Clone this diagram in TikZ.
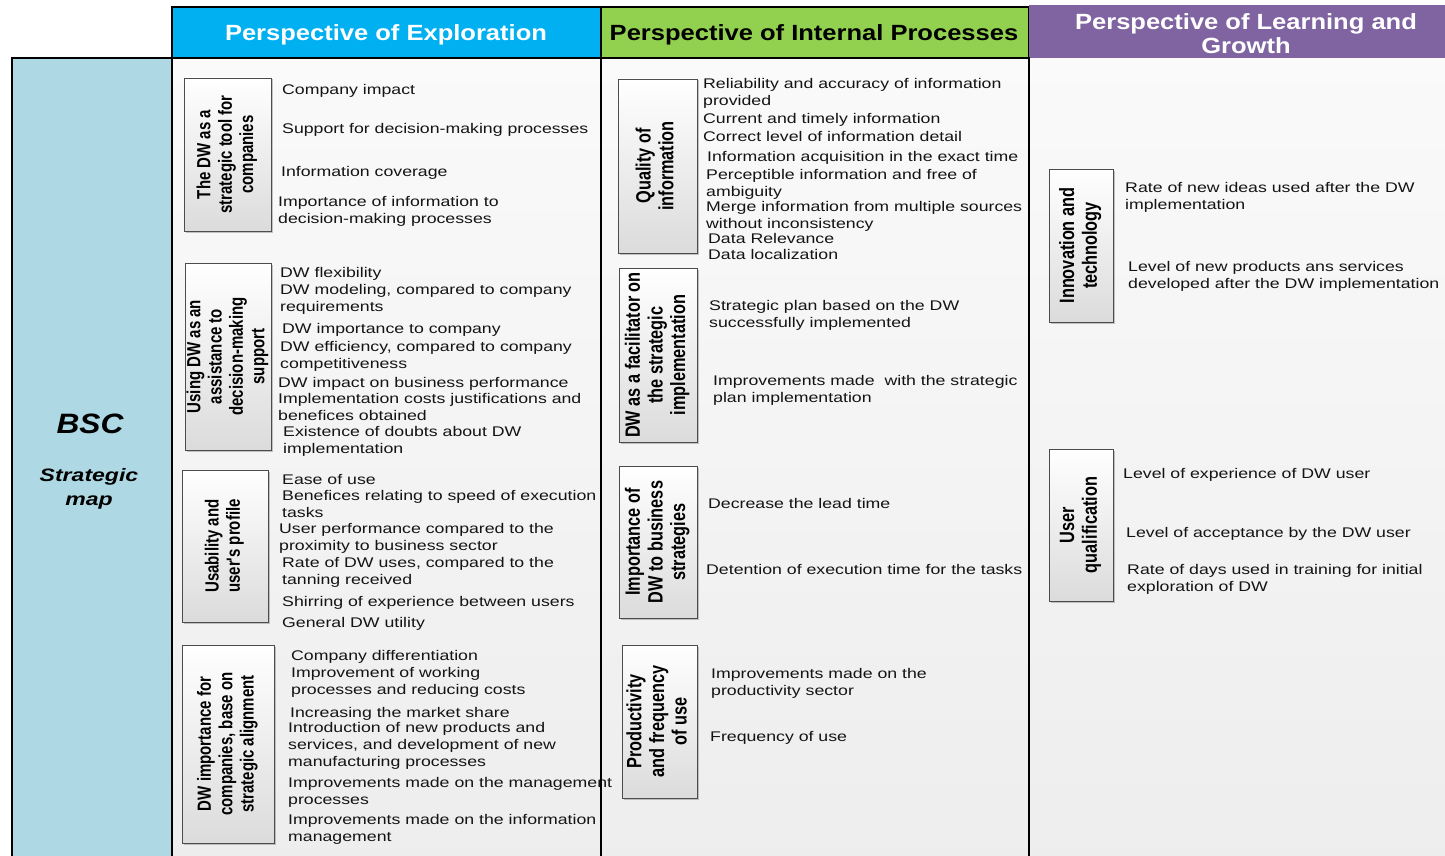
\documentclass[tikz,border=0pt]{standalone}
\usepackage{fontspec}
\usepackage{graphicx}
\usetikzlibrary{shadows}
\setmainfont{Liberation Sans}
% wide set faces for the running text, headings and side panel
\newfontfamily\itemfont[FakeStretch=1.265]{Liberation Sans}
\newfontfamily\headfont[FakeStretch=1.16]{Liberation Sans}
\newfontfamily\catfont{Liberation Sans}
\newfontfamily\bscfont[FakeStretch=1.13]{Liberation Sans}
\newfontfamily\mapfont[FakeStretch=1.28]{Liberation Sans}

\definecolor{explorecol}{HTML}{00B0F0}
\definecolor{internalcol}{HTML}{92D050}
\definecolor{learningcol}{HTML}{8064A2}
\definecolor{bscblue}{HTML}{ADD8E4}

% vertical category caption: glyphs widened across the reading direction
\newcommand\catcaption[1]{\scalebox{1}[1.27]{\begin{tabular}{@{}c@{}}#1\end{tabular}}}

\tikzset{
  frame/.style={draw=black, line width=2.6pt},
  panel/.style={top color=black!2, bottom color=black!7},
  headbox/.style={draw=black, line width=2.6pt, inner sep=0},
  headtext/.style={inner sep=0, align=center,
    font=\headfont\bfseries\fontsize{22}{24.5}\selectfont},
  catbox/.style={draw=black!70, line width=0.9pt, top color=white, bottom color=black!14,
    inner sep=0, drop shadow={shadow xshift=1.5pt, shadow yshift=-1.5pt, fill=black!45, opacity=0.5}},
  catlabel/.style={rotate=90, inner sep=0, text=black,
    font=\catfont\bfseries\fontsize{15}{16.8}\selectfont},
  catlabel large/.style={catlabel, font=\catfont\bfseries\fontsize{16.3}{17.8}\selectfont},
  item/.style={anchor=north west, inner sep=0, yshift=5.5pt, align=left, text=black!92,
    font=\itemfont\fontsize{14}{17}\selectfont, execute at begin node=\strut},
}

\begin{document}
\begin{tikzpicture}[x=1pt, y=-1pt]
\useasboundingbox (0,0) rectangle (1445,856);

% column backgrounds
\fill[bscblue] (12,58) rectangle (172,870);
\shade[panel] (172,58) rectangle (601,870);
\shade[panel] (601,58) rectangle (1029,870);
\shade[panel] (1029,58) rectangle (1450,870);

% column headings
\node[headbox, fill=explorecol, minimum width=429pt, minimum height=51pt]
  (hexp) at (386.5,32.5) {};
\node[headtext, text=white] (texp) at (386,35) {Perspective of Exploration};
\node[headbox, fill=internalcol, minimum width=428pt, minimum height=51pt]
  (hint) at (815,32.5) {};
\node[headtext, text=black] (tint) at (814,35) {Perspective of Internal Processes};
\node[headbox, draw=none, fill=learningcol, minimum width=420pt, minimum height=53pt]
  (hlea) at (1239,31.5) {};
\node[headtext, text=white] (tlea) at (1246,33.5) {Perspective of Learning and\\Growth};

% side panel
\node[font=\bscfont\bfseries\itshape\fontsize{28}{30}\selectfont, inner sep=0] (bsc) at (90,424) {BSC};
\node[font=\mapfont\bfseries\itshape\fontsize{18}{24}\selectfont, align=center, inner sep=0]
  (smap) at (89,489) {Strategic\\map};

% ---------- exploration ----------
\node[catbox, minimum width=87pt, minimum height=153pt] (e1) at (227.5,154.5) {};
\node[catlabel] at (e1) {\catcaption{The DW as a\\strategic tool for\\companies}};
\node[catbox, minimum width=86pt, minimum height=187pt] (e2) at (228,356.5) {};
\node[catlabel] at (e2) {\catcaption{Using DW as an\\assistance to\\decision-making\\support}};
\node[catbox, minimum width=86pt, minimum height=152pt] (e3) at (225,546) {};
\node[catlabel] at (e3) {\catcaption{Usability and\\user's profile}};
\node[catbox, minimum width=92pt, minimum height=198pt] (e4) at (228,744) {};
\node[catlabel] at (e4) {\catcaption{DW importance for\\companies, base on\\strategic alignment}};

\node[item] (e1a) at (282,88) {Company impact};
\node[item] (e1b) at (282,127) {Support for decision-making processes};
\node[item] (e1c) at (281,170) {Information coverage};
\node[item] (e1d) at (278,202) {Importance of information to\\decision-making processes};

\node[item] (e2a) at (280,271) {DW flexibility};
\node[item] (e2b) at (280,290) {DW modeling, compared to company\\requirements};
\node[item] (e2c) at (282,327) {DW importance to company};
\node[item] (e2d) at (280,347) {DW efficiency, compared to company\\competitiveness};
\node[item] (e2e) at (278,381) {DW impact on business performance};
\node[item] (e2f) at (278,399) {Implementation costs justifications and\\benefices obtained};
\node[item] (e2g) at (283,432) {Existence of doubts about DW\\implementation};

\node[item] (e3a) at (282,478) {Ease of use};
\node[item] (e3b) at (282,496) {Benefices relating to speed of execution\\tasks};
\node[item] (e3c) at (279,529) {User performance compared to the\\proximity to business sector};
\node[item] (e3d) at (282,563) {Rate of DW uses, compared to the\\tanning received};
\node[item] (e3e) at (282,600) {Shirring of experience between users};
\node[item] (e3f) at (282,621) {General DW utility};

\node[item] (e4a) at (291,654) {Company differentiation};
\node[item] (e4b) at (291,673) {Improvement of working\\processes and reducing costs};
\node[item] (e4c) at (290,711) {Increasing the market share};
\node[item] (e4d) at (288,728) {Introduction of new products and\\services, and development of new\\manufacturing processes};
\node[item] (e4e) at (288,783) {Improvements made on the management\\processes};
\node[item] (e4f) at (288,820) {Improvements made on the information\\management};

% ---------- internal processes ----------
\node[catbox, minimum width=79pt, minimum height=174pt] (i1) at (657.5,166) {};
\node[catlabel large] at (i1) {\catcaption{Quality of\\information}};
\node[catbox, minimum width=78pt, minimum height=174pt] (i2) at (658,355) {};
\node[catlabel large] at (i2) {\catcaption{DW as a facilitator on\\the strategic\\implementation}};
\node[catbox, minimum width=78pt, minimum height=152pt] (i3) at (658,542) {};
\node[catlabel large] at (i3) {\catcaption{Importance of\\DW to business\\strategies}};
\node[catbox, minimum width=75pt, minimum height=153pt] (i4) at (659.5,721.5) {};
\node[catlabel large] at (i4) {\catcaption{Productivity\\and frequency\\of use}};

\node[item] (i1a) at (703,84) {Reliability and accuracy of information\\provided};
\node[item] (i1b) at (703,117) {Current and timely information};
\node[item] (i1c) at (703,135) {Correct level of information detail};
\node[item] (i1d) at (707,155) {Information acquisition in the exact time};
\node[item] (i1e) at (706,175) {Perceptible information and free of\\ambiguity};
\node[item] (i1f) at (706,207) {Merge information from multiple sources\\without inconsistency};
\node[item] (i1g) at (708,237) {Data Relevance};
\node[item] (i1h) at (708,253) {Data localization};

\node[item] (i2a) at (709,306) {Strategic plan based on the DW\\successfully implemented};
\node[item] (i2b) at (713,381) {Improvements made\hspace{5pt} with the strategic\\plan implementation};

\node[item] (i3a) at (708,502) {Decrease the lead time};
\node[item] (i3b) at (706,568) {Detention of execution time for the tasks};

\node[item] (i4a) at (711,674) {Improvements made on the\\productivity sector};
\node[item] (i4b) at (710,735) {Frequency of use};

% ---------- learning and growth ----------
\node[catbox, minimum width=64pt, minimum height=153pt] (l1) at (1081,245.5) {};
\node[catlabel large] at (l1) {\catcaption{Innovation and\\technology}};
\node[catbox, minimum width=64pt, minimum height=152pt] (l2) at (1081,525) {};
\node[catlabel large] at (l2) {\catcaption{User\\qualification}};

\node[item] (l1a) at (1125,188) {Rate of new ideas used after the DW\\implementation};
\node[item] (l1b) at (1128,267) {Level of new products ans services\\developed after the DW implementation};
\node[item] (l2a) at (1123,472) {Level of experience of DW user};
\node[item] (l2b) at (1126,531) {Level of acceptance by the DW user};
\node[item] (l2c) at (1127,570) {Rate of days used in training for initial\\exploration of DW};

% heavy column outlines on top
\draw[frame] (12,58) rectangle (172,870);
\draw[frame] (172,58) rectangle (601,870);
\draw[frame] (601,58) rectangle (1029,870);
\end{tikzpicture}
\end{document}
